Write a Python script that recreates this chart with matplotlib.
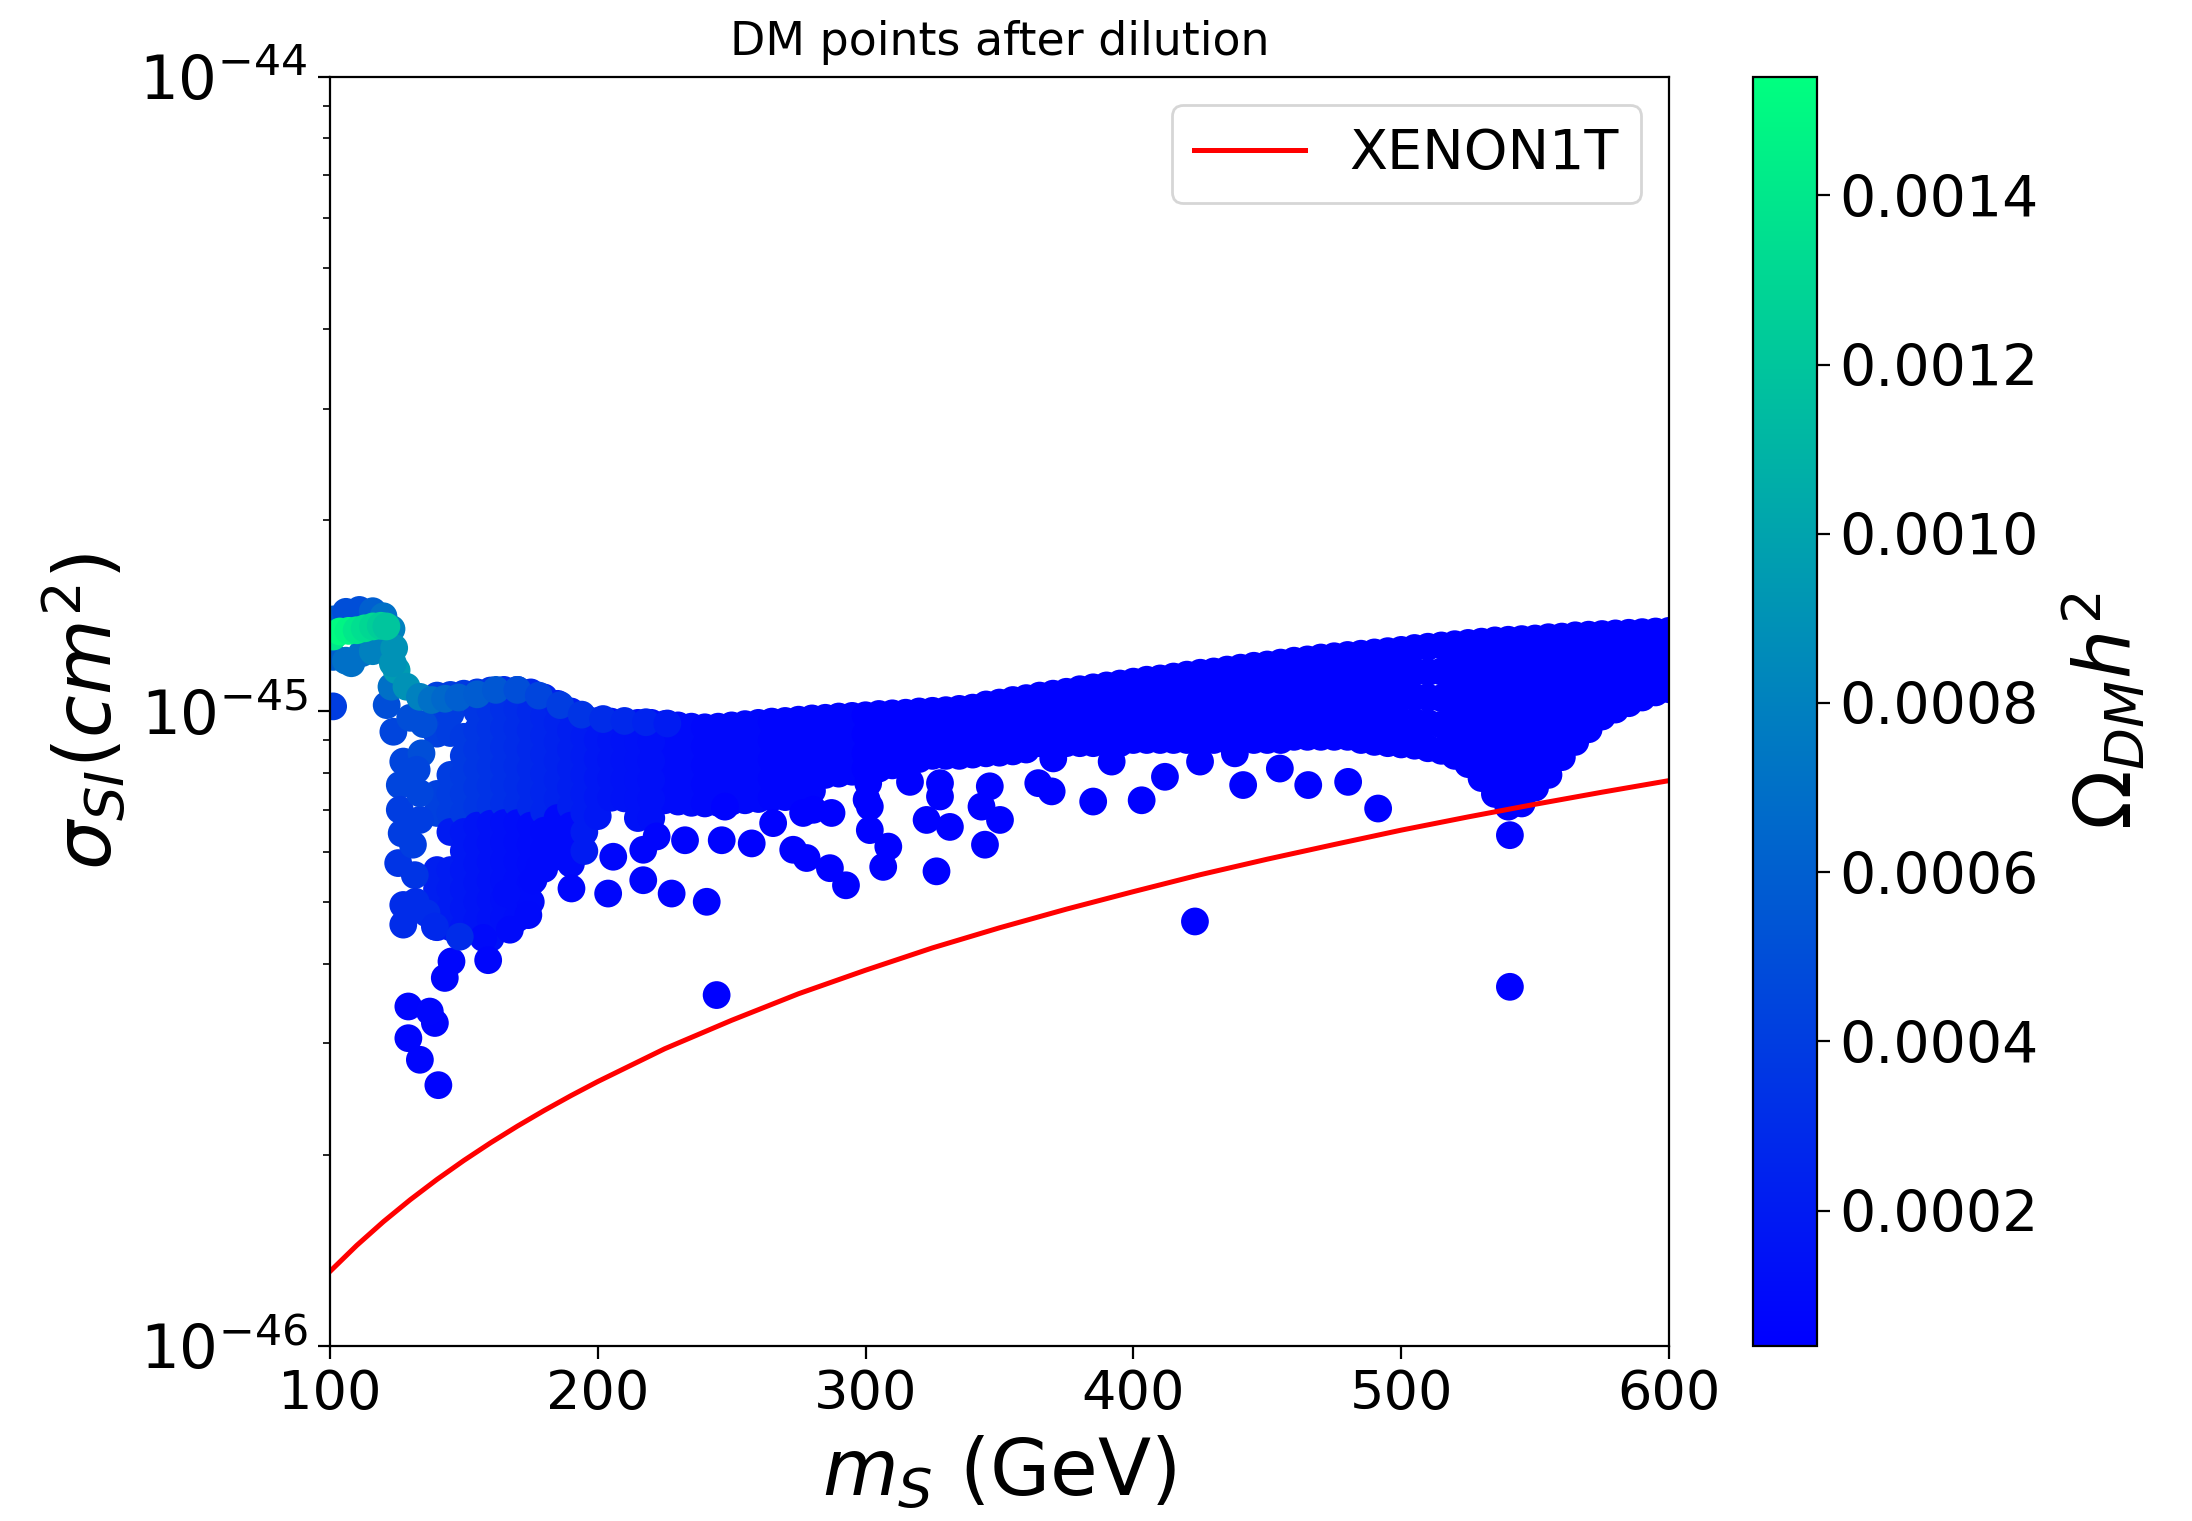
import numpy as np
import matplotlib
matplotlib.use('Agg')
import matplotlib.pyplot as plt
from matplotlib.ticker import FormatStrFormatter

# XENON1T upper limit, sigma_SI in cm^2
xenon_ms = [100, 110, 120, 130, 140, 150, 160, 170, 180, 190, 200,
            225, 250, 275, 300, 325, 350, 375, 400, 425, 450, 475,
            500, 525, 550, 575, 600]
xenon_sig = [1.31e-46, 1.44e-46, 1.57e-46, 1.70e-46, 1.83e-46, 1.96e-46,
             2.09e-46, 2.22e-46, 2.35e-46, 2.48e-46, 2.61e-46,
             2.94e-46, 3.26e-46, 3.59e-46, 3.91e-46, 4.24e-46, 4.56e-46,
             4.88e-46, 5.20e-46, 5.53e-46, 5.85e-46, 6.17e-46,
             6.50e-46, 6.82e-46, 7.14e-46, 7.46e-46, 7.78e-46]

# scan points, column by column: (m_S, Omega h^2, [log10 sigma_SI ...])
band_left = [
    (140, 0.00042, [-44.975, -45.005, -45.035, -45.130, -45.160]),
    (140, 0.00022, [-45.250, -45.280, -45.310, -45.340]),
    (145, 0.00040, [-44.974, -45.004, -45.034, -45.100, -45.130, -45.160]),
    (145, 0.00020, [-45.190, -45.250, -45.280, -45.310, -45.340]),
    (150, 0.00038, [-44.972, -45.040, -45.070, -45.100, -45.130, -45.160]),
    (150, 0.00018, [-45.190, -45.220, -45.250, -45.280, -45.310, -45.340]),
    (155, 0.00036, [-44.970, -45.000, -45.030, -45.060, -45.090, -45.120, -45.150]),
    (155, 0.00016, [-45.180, -45.210, -45.240, -45.270, -45.300, -45.330]),
    (160, 0.00034, [-44.967, -44.997, -45.027, -45.057, -45.087, -45.117, -45.147]),
    (160, 0.00014, [-45.177, -45.207, -45.237, -45.267, -45.297, -45.327, -45.357]),
    (165, 0.00032, [-44.966, -44.996, -45.026, -45.056, -45.086, -45.116, -45.146]),
    (165, 0.00013, [-45.176, -45.206, -45.236, -45.266, -45.296, -45.326]),
    (170, 0.00030, [-44.966, -44.996, -45.026, -45.056, -45.086, -45.116, -45.146]),
    (170, 0.00012, [-45.176, -45.206, -45.236, -45.266, -45.296, -45.326]),
    (175, 0.00028, [-44.970, -45.000, -45.030, -45.060, -45.090, -45.120, -45.150]),
    (175, 0.00011, [-45.180, -45.210, -45.240, -45.270, -45.300]),
    (180, 0.00026, [-44.978, -45.008, -45.038, -45.068, -45.098, -45.128, -45.158]),
    (180, 0.00010, [-45.188, -45.218, -45.248]),
    (185, 0.00024, [-44.988, -45.018, -45.048, -45.078, -45.108, -45.138]),
    (185, 0.00010, [-45.168, -45.198, -45.228]),
    (190, 0.00022, [-45.000, -45.030, -45.060, -45.090, -45.120, -45.150]),
    (190, 0.00010, [-45.180, -45.210, -45.240]),
    (195, 0.00020, [-45.010, -45.040, -45.070, -45.100, -45.130, -45.160, -45.190, -45.220]),
    (200, 0.00018, [-45.015, -45.045, -45.075, -45.105, -45.135, -45.165]),
    (205, 0.00016, [-45.016, -45.046, -45.076, -45.106, -45.136]),
    (210, 0.00015, [-45.017, -45.047, -45.077, -45.107, -45.137]),
    (215, 0.00014, [-45.018, -45.048, -45.078, -45.108, -45.138, -45.168]),
    (220, 0.00013, [-45.018, -45.048, -45.078, -45.108, -45.138, -45.168]),
]

band_mid = [
    (225, 0.00011, [-45.020, -45.050, -45.080, -45.110, -45.140]),
    (230, 0.00011, [-45.022, -45.052, -45.082, -45.112, -45.142]),
    (235, 0.00011, [-45.024, -45.054, -45.084, -45.114, -45.144]),
    (240, 0.00009, [-45.025, -45.055, -45.085, -45.115, -45.145]),
    (245, 0.00009, [-45.024, -45.054, -45.084, -45.114, -45.144]),
    (250, 0.00009, [-45.022, -45.052, -45.082, -45.112, -45.142]),
    (255, 0.00009, [-45.020, -45.050, -45.080, -45.110, -45.140]),
    (260, 0.00009, [-45.018, -45.048, -45.078, -45.108, -45.138]),
    (265, 0.00007, [-45.016, -45.046, -45.076, -45.106, -45.136]),
    (270, 0.00007, [-45.015, -45.045, -45.075, -45.105, -45.135]),
    (275, 0.00007, [-45.013, -45.043, -45.073, -45.103, -45.130]),
    (280, 0.00007, [-45.011, -45.041, -45.071, -45.100, -45.125]),
    (285, 0.00007, [-45.010, -45.040, -45.070, -45.100]),
    (290, 0.00007, [-45.008, -45.038, -45.068, -45.098]),
    (295, 0.00007, [-45.007, -45.037, -45.067, -45.095]),
    (300, 0.00005, [-45.006, -45.036, -45.066, -45.090]),
    (305, 0.00005, [-45.004, -45.034, -45.064, -45.090]),
    (310, 0.00005, [-45.003, -45.033, -45.063, -45.085]),
    (315, 0.00005, [-45.002, -45.032, -45.062, -45.080]),
    (320, 0.00005, [-45.000, -45.030, -45.060, -45.075]),
    (325, 0.00005, [-44.999, -45.029, -45.059, -45.070]),
    (330, 0.00005, [-44.998, -45.028, -45.058, -45.070]),
    (335, 0.00005, [-44.996, -45.026, -45.056, -45.070]),
    (340, 0.00005, [-44.994, -45.024, -45.054, -45.068]),
    (345, 0.00005, [-44.989, -45.019, -45.049, -45.066]),
    (350, 0.00005, [-44.986, -45.016, -45.046, -45.065]),
    (355, 0.00005, [-44.982, -45.012, -45.042, -45.063]),
    (360, 0.00005, [-44.979, -45.009, -45.039, -45.060]),
    (365, 0.00005, [-44.975, -45.005, -45.035, -45.050]),
    (370, 0.00005, [-44.972, -45.002, -45.032, -45.050]),
    (375, 0.00005, [-44.969, -44.999, -45.029, -45.050]),
    (380, 0.00005, [-44.965, -44.995, -45.025, -45.050]),
    (385, 0.00005, [-44.962, -44.992, -45.022, -45.050]),
    (390, 0.00005, [-44.959, -44.989, -45.019, -45.050]),
    (395, 0.00005, [-44.956, -44.987, -45.018, -45.050]),
    (400, 0.00005, [-44.953, -44.976, -44.999, -45.022, -45.045]),
    (405, 0.00005, [-44.950, -44.974, -44.998, -45.021, -45.045]),
    (410, 0.00005, [-44.948, -44.972, -44.996, -45.020, -45.045]),
    (415, 0.00005, [-44.945, -44.970, -44.995, -45.020, -45.045]),
    (420, 0.00005, [-44.942, -44.968, -44.993, -45.019, -45.045]),
    (425, 0.00005, [-44.939, -44.966, -44.992, -45.018, -45.045]),
    (430, 0.00005, [-44.937, -44.964, -44.991, -45.018, -45.045]),
    (435, 0.00005, [-44.934, -44.962, -44.989, -45.017, -45.045]),
    (440, 0.00005, [-44.931, -44.960, -44.988, -45.016, -45.045]),
    (445, 0.00005, [-44.928, -44.957, -44.987, -45.016, -45.045]),
    (450, 0.00005, [-44.926, -44.956, -44.985, -45.015, -45.045]),
    (455, 0.00005, [-44.923, -44.953, -44.984, -45.014, -45.045]),
]

band_right = [
    (460, 0.00005, [-44.920, -44.950, -44.980, -45.010, -45.040]),
    (465, 0.00005, [-44.918, -44.948, -44.979, -45.009, -45.040]),
    (470, 0.00005, [-44.915, -44.946, -44.978, -45.009, -45.040]),
    (475, 0.00005, [-44.913, -44.945, -44.976, -45.008, -45.040]),
    (480, 0.00005, [-44.911, -44.943, -44.975, -45.008, -45.040]),
    (485, 0.00005, [-44.909, -44.943, -44.977, -45.011, -45.045]),
    (490, 0.00005, [-44.907, -44.942, -44.977, -45.013, -45.048]),
    (495, 0.00005, [-44.905, -44.941, -44.977, -45.014, -45.050]),
    (500, 0.00005, [-44.903, -44.940, -44.977, -45.015, -45.052]),
    (505, 0.00005, [-44.900, -44.938, -44.977, -45.016, -45.054]),
    (510, 0.00005, [-44.898, -44.938, -44.978, -45.018, -45.058]),
    (515, 0.00005, [-44.896, -44.937, -44.979, -45.021, -45.062]),
    (520, 0.00005, [-44.894, -44.929, -44.965, -45.000, -45.035, -45.070]),
    (525, 0.00005, [-44.892, -44.930, -44.968, -45.007, -45.045, -45.083]),
    (530, 0.00005, [-44.890, -44.920, -44.950, -44.980, -45.010, -45.040, -45.070, -45.105]),
    (535, 0.00005, [-44.888, -44.918, -44.948, -44.978, -45.008, -45.038, -45.068, -45.098, -45.130]),
    (540, 0.00005, [-44.887, -44.917, -44.947, -44.977, -45.007, -45.037, -45.067, -45.097, -45.127, -45.150]),
    (545, 0.00005, [-44.886, -44.916, -44.946, -44.976, -45.006, -45.036, -45.066, -45.096, -45.126, -45.145]),
    (550, 0.00005, [-44.885, -44.915, -44.945, -44.975, -45.005, -45.035, -45.065, -45.095, -45.120]),
    (555, 0.00005, [-44.883, -44.913, -44.943, -44.973, -45.003, -45.033, -45.063, -45.100]),
    (560, 0.00005, [-44.882, -44.912, -44.942, -44.972, -45.002, -45.032, -45.072]),
    (565, 0.00005, [-44.880, -44.914, -44.948, -44.982, -45.015, -45.048]),
    (570, 0.00005, [-44.879, -44.909, -44.939, -44.969, -44.999, -45.028]),
    (575, 0.00005, [-44.878, -44.910, -44.943, -44.975, -45.008]),
    (580, 0.00005, [-44.877, -44.907, -44.937, -44.967, -44.997]),
    (585, 0.00005, [-44.876, -44.904, -44.931, -44.959, -44.987]),
    (590, 0.00005, [-44.875, -44.901, -44.926, -44.952, -44.978]),
    (595, 0.00005, [-44.874, -44.899, -44.924, -44.950, -44.970]),
    (600, 0.00005, [-44.873, -44.904, -44.934, -44.965]),
]

# single points: (m_S, log10 sigma_SI, Omega h^2)
left_column = [
    (123.7, -45.032, 0.00045), (127.4, -45.079, 0.00045), (134.2, -45.066, 0.00050),
    (126.1, -45.116, 0.00045), (126.1, -45.155, 0.00040), (126.8, -45.192, 0.00040),
    (125.5, -45.239, 0.00035), (131.7, -45.258, 0.00035), (127.4, -45.305, 0.00030),
    (127.4, -45.336, 0.00030), (136.1, -45.318, 0.00030), (139.2, -45.339, 0.00028),
    (133.6, -45.171, 0.00040), (133.6, -45.129, 0.00045), (132.4, -45.092, 0.00045),
    (130.0, -45.010, 0.00050), (135.0, -45.020, 0.00050), (131.0, -45.210, 0.00040),
    (132.0, -45.300, 0.00030),
]

tail = [
    (129.3, -45.465, 0.00007), (129.3, -45.515, 0.00007), (133.6, -45.549, 0.00007),
    (140.5, -45.589, 0.00006), (139.2, -45.491, 0.00007), (137.3, -45.473, 0.00008),
    (142.9, -45.420, 0.00008), (145.4, -45.394, 0.00008), (157.3, -45.357, 0.00010),
    (159.1, -45.392, 0.00008), (148.5, -45.355, 0.00030), (167.2, -45.344, 0.00010),
    (174.1, -45.321, 0.00010), (166.0, -45.287, 0.00012), (176.0, -45.266, 0.00010),
    (178.4, -45.245, 0.00010), (184.0, -45.229, 0.00010), (190.2, -45.279, 0.00008),
    (203.9, -45.287, 0.00008), (205.8, -45.229, 0.00008), (217.0, -45.266, 0.00007),
    (217.0, -45.218, 0.00007), (222.0, -45.197, 0.00007), (227.6, -45.287, 0.00006),
    (240.7, -45.300, 0.00006), (244.4, -45.447, 0.00005), (232.6, -45.203, 0.00006),
    (246.3, -45.203, 0.00006), (247.5, -45.150, 0.00006), (257.5, -45.208, 0.00005),
    (265.5, -45.176, 0.00005), (273.0, -45.218, 0.00005), (278.0, -45.231, 0.00005),
    (276.7, -45.160, 0.00005), (280.5, -45.155, 0.00005), (286.7, -45.247, 0.00005),
    (292.7, -45.274, 0.00005), (306.6, -45.245, 0.00005), (308.5, -45.213, 0.00005),
    (301.6, -45.187, 0.00005), (301.6, -45.150, 0.00005), (287.3, -45.160, 0.00005),
    (300.4, -45.139, 0.00005), (301.0, -45.113, 0.00005), (326.5, -45.252, 0.00005),
    (322.8, -45.171, 0.00005), (331.5, -45.182, 0.00005), (316.6, -45.111, 0.00005),
    (327.8, -45.113, 0.00005), (327.8, -45.134, 0.00005), (344.6, -45.210, 0.00005),
    (343.3, -45.150, 0.00005), (350.2, -45.171, 0.00005), (346.4, -45.118, 0.00005),
    (364.5, -45.113, 0.00005), (369.5, -45.126, 0.00005), (370.1, -45.074, 0.00005),
    (385.0, -45.142, 0.00005), (403.1, -45.140, 0.00005), (391.9, -45.079, 0.00005),
    (411.8, -45.103, 0.00005), (424.9, -45.079, 0.00005), (441.0, -45.116, 0.00005),
    (437.9, -45.066, 0.00005), (454.7, -45.090, 0.00005), (423.0, -45.331, 0.00005),
    (465.3, -45.116, 0.00005), (480.2, -45.111, 0.00005), (491.4, -45.153, 0.00005),
    (540.6, -45.195, 0.00005), (540.6, -45.434, 0.00005),
]

ridge = [
    (121.2, -44.990, 0.00050), (123.0, -44.961, 0.00070), (124.9, -44.935, 0.00095),
    (128.6, -44.961, 0.00090), (133.6, -44.977, 0.00080), (138.0, -44.982, 0.00070),
    (143.0, -44.980, 0.00065), (148.0, -44.978, 0.00060), (155.0, -44.973, 0.00058),
    (162.0, -44.966, 0.00055), (170.0, -44.966, 0.00050), (178.0, -44.975, 0.00045),
    (186.0, -44.990, 0.00040), (194.0, -45.005, 0.00035), (202.0, -45.012, 0.00030),
    (210.0, -45.015, 0.00028), (218.0, -45.017, 0.00025), (226.0, -45.019, 0.00020),
]

peak_blue = [
    (101.2, -44.855, 0.00060), (106.0, -44.843, 0.00050), (111.0, -44.840, 0.00050),
    (116.0, -44.842, 0.00060), (120.0, -44.850, 0.00070), (123.0, -44.870, 0.00080),
    (101.2, -44.914, 0.00060), (106.0, -44.920, 0.00070), (108.0, -44.924, 0.00070),
    (112.0, -44.908, 0.00070), (116.0, -44.905, 0.00080), (121.1, -44.898, 0.00080),
    (123.5, -44.924, 0.00090), (124.0, -44.900, 0.00090), (101.2, -44.992, 0.00040),
]

peak_green = [
    (101.2, -44.882, 0.00140), (103.7, -44.874, 0.00152), (107.0, -44.873, 0.00148),
    (110.0, -44.872, 0.00140), (113.0, -44.869, 0.00135), (116.1, -44.866, 0.00130),
    (119.0, -44.865, 0.00125), (121.1, -44.866, 0.00120),
]


def from_columns(cols):
    ms, ls, om = [], [], []
    for m, o, logs in cols:
        for l in logs:
            ms.append(m)
            ls.append(l)
            om.append(o)
    return ms, ls, om


def from_points(pts):
    return [p[0] for p in pts], [p[1] for p in pts], [p[2] for p in pts]


ms, logsig, omega = [], [], []
for part in (from_columns(band_mid), from_columns(band_right), from_columns(band_left),
             from_points(left_column), from_points(tail), from_points(ridge),
             from_points(peak_blue), from_points(peak_green)):
    ms += part[0]
    logsig += part[1]
    omega += part[2]

sigma = 10.0 ** np.array(logsig)

fig = plt.figure(figsize=(10.96, 7.605), dpi=200)
ax = fig.add_axes([0.1505, 0.1151, 0.6109, 0.8343])
cax = fig.add_axes([0.7997, 0.1151, 0.0292, 0.8343])

sc = ax.scatter(ms, sigma, c=omega, cmap='winter', vmin=0.00004, vmax=0.00154,
                s=100, linewidths=0)
ax.plot(xenon_ms, xenon_sig, color='red', lw=1.8, label='XENON1T')

ax.set_yscale('log')
ax.set_xlim(100, 600)
ax.set_ylim(1e-46, 1e-44)
ax.set_yticks([1e-46, 1e-45, 1e-44])
ax.set_xticks([100, 200, 300, 400, 500, 600])
ax.tick_params(axis='x', which='major', labelsize=19.5, length=4.5)
ax.tick_params(axis='y', which='major', labelsize=22, length=4.5)
ax.tick_params(which='minor', length=2.5)

ax.set_title('DM points after dilution', fontsize=16.5, pad=8)
ax.set_xlabel(r'$m_S$ (GeV)', fontsize=28, labelpad=5)
ax.set_ylabel(r'$\sigma_{SI}(cm^2)$', fontsize=28, labelpad=4)
ax.legend(loc='upper right', fontsize=20)

cb = fig.colorbar(sc, cax=cax)
cb.set_ticks([0.0002, 0.0004, 0.0006, 0.0008, 0.0010, 0.0012, 0.0014])
cb.ax.yaxis.set_major_formatter(FormatStrFormatter('%.4f'))
cb.ax.tick_params(labelsize=20.5, length=4.5)
cb.set_label(r'$\Omega_{DM}h^2$', fontsize=28, labelpad=8)

fig.savefig('out.png', dpi=200)
